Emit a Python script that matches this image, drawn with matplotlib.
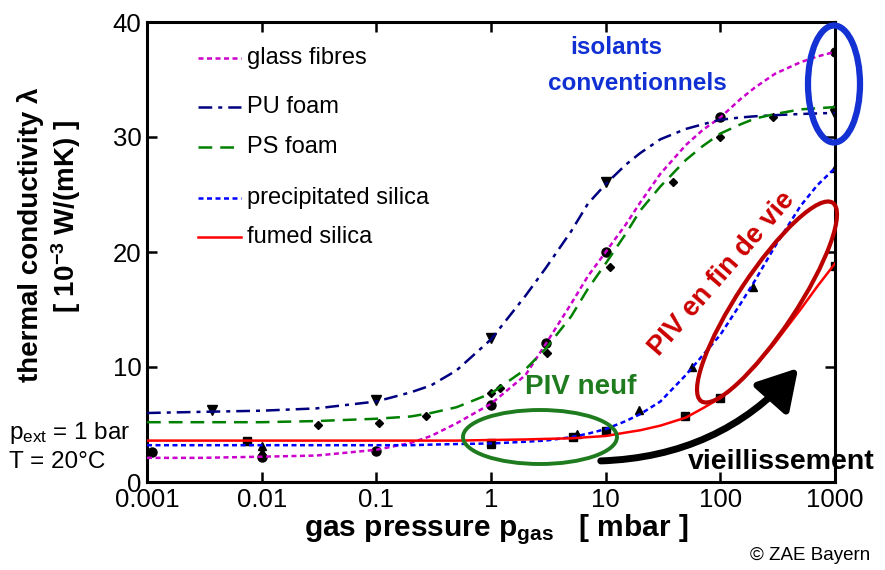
import matplotlib
matplotlib.use('Agg')
import matplotlib.pyplot as plt
from matplotlib.patches import Ellipse, FancyArrowPatch
from matplotlib.ticker import NullLocator, FixedLocator

plt.rcParams['font.family'] = ['Liberation Sans', 'DejaVu Sans']
plt.rcParams['mathtext.default'] = 'regular'

# curve samples (fit lines)
p_curve = [0.001, 0.003, 0.01, 0.03, 0.1, 0.2, 0.3, 0.5, 1, 2, 3, 5, 7, 10, 15, 20, 30, 50, 70,
           100, 150, 200, 300, 500, 700, 1000]
glass_curve = [2.1, 2.1, 2.2, 2.3, 2.8, 3.4, 4.0, 5.1, 6.8, 9.3, 12.0, 15.5, 17.9, 20.0, 22.4, 24.3,
               26.8, 29.3, 30.6, 31.7, 33.3, 34.3, 35.5, 36.5, 37.0, 37.4]
pu_curve = [6.0, 6.1, 6.2, 6.4, 7.0, 7.8, 8.4, 9.7, 12.4, 16.2, 18.6, 21.8, 24.2, 25.9, 27.6, 28.6,
            29.8, 30.7, 31.1, 31.5, 31.7, 31.8, 31.9, 32.0, 32.05, 32.1]
ps_curve = [5.2, 5.2, 5.2, 5.3, 5.5, 5.7, 6.0, 6.5, 7.7, 9.8, 11.6, 14.4, 16.8, 19.0, 21.6, 23.6,
            25.7, 28.0, 29.2, 30.3, 31.1, 31.6, 32.0, 32.4, 32.5, 32.6]
prec_curve = [3.2, 3.2, 3.2, 3.2, 3.2, 3.2, 3.25, 3.3, 3.35, 3.5, 3.6, 3.9, 4.2, 4.6, 5.3, 5.9,
              7.0, 9.3, 11.0, 12.8, 15.5, 17.5, 20.5, 24.0, 25.8, 27.3]
fumed_curve = [3.6, 3.6, 3.6, 3.6, 3.6, 3.6, 3.6, 3.6, 3.65, 3.7, 3.75, 3.8, 3.9, 4.0, 4.3, 4.5,
               4.9, 5.6, 6.4, 7.3, 8.8, 10.0, 12.1, 15.0, 17.0, 19.0]

# measured points
glass_p = [0.0011, 0.01, 0.1, 1, 3, 10, 100, 1000]
glass_l = [2.6, 2.2, 2.7, 6.7, 12.1, 20.0, 31.7, 37.4]
pu_p = [0.0037, 0.1, 1, 10, 1000]
pu_l = [6.3, 7.1, 12.5, 26.1, 32.0]
ps_p = [0.031, 0.105, 0.27, 1.0, 1.2, 3.1, 11, 39, 100, 287, 1000]
ps_l = [5.0, 5.1, 5.7, 7.7, 8.2, 11.2, 18.7, 26.1, 30.0, 31.7, 32.5]
prec_p = [0.01, 0.01, 1, 5.6, 19.5, 57, 192, 1000]
prec_l = [2.6, 3.1, 3.3, 4.2, 6.3, 10.0, 17.0, 27.3]
fumed_p = [0.0074, 1, 5.2, 10, 49, 100, 1000]
fumed_l = [3.6, 3.4, 3.9, 4.4, 5.7, 7.3, 18.8]

series = [
    ('glass fibres', p_curve, glass_curve, glass_p, glass_l, '#cc00cc', [2.0, 1.4], 'o', 6.5),
    ('PU foam', p_curve, pu_curve, pu_p, pu_l, '#000080', [5.5, 2.4, 1.6, 2.4], 'v', 6.5),
    ('PS foam', p_curve, ps_curve, ps_p, ps_l, '#008000', [5.5, 3.2], 'D', 4.5),
    ('precipitated silica', p_curve, prec_curve, prec_p, prec_l, '#0000ff', [2.0, 1.4], '^', 6),
    ('fumed silica', p_curve, fumed_curve, fumed_p, fumed_l, '#ff0000', None, 's', 5.5),
]

xticks = [0.001, 0.01, 0.1, 1, 10, 100, 1000]
xticklabels = ['0.001', '0.01', '0.1', '1', '10', '100', '1000']
yticks = [0, 10, 20, 30, 40]

fig = plt.figure(figsize=(8.85, 5.7), dpi=100)
ax = fig.add_axes([147/885, 88/570, 688/885, 460/570])

for name, pc, lc, pm, lm, col, dash, mk, ms in series:
    ax.plot(pm, lm, linestyle='none', marker=mk, color='k', markersize=ms, zorder=2)
    line, = ax.plot(pc, lc, color=col, lw=1.8, zorder=3)
    if dash:
        line.set_dashes(dash)

ax.set_xscale('log')
ax.set_xlim(0.001, 1000)
ax.set_ylim(0, 40)
ax.xaxis.set_major_locator(FixedLocator(xticks))
ax.xaxis.set_minor_locator(NullLocator())
ax.set_xticklabels(xticklabels)
ax.set_yticks(yticks)
ax.tick_params(direction='in', length=7, width=1.8, labelsize=18.5, top=True, right=True)
ax.tick_params(axis='x', pad=4)
ax.tick_params(axis='y', pad=4)
for s in ax.spines.values():
    s.set_linewidth(2.2)

# overlay in pixel units for annotations
ov = fig.add_axes([0, 0, 1, 1], facecolor='none')
ov.set_xlim(0, 885)
ov.set_ylim(0, 570)
ov.axis('off')

# legend, drawn by hand for the uneven spacing
leg_y = [58, 107, 147, 198, 237]
for (name, pc, lc, pm, lm, col, dash, mk, ms), yy in zip(series, leg_y):
    ln, = ov.plot([198, 241], [570 - yy, 570 - yy], color=col, lw=1.8)
    if dash:
        ln.set_dashes(dash)
    ov.text(247, 570 - yy, name, fontsize=17, va='center', ha='left')

ov.text(616, 570 - 48, 'isolants', color='#1030d4', fontsize=17.5,
        fontweight='bold', ha='center', va='center')
ov.text(637, 570 - 84, 'conventionnels', color='#1030d4', fontsize=17.5,
        fontweight='bold', ha='center', va='center')
ov.add_patch(Ellipse((834, 570 - 84), 52, 117, fill=False, ec='#1432d4', lw=4.5))

ov.text(722, 570 - 274, 'PIV en fin de vie', color='#cc0000', fontsize=19.5,
        fontweight='bold', ha='center', va='center', rotation=49)
ov.add_patch(Ellipse((767, 570 - 302), 238, 58, angle=56.5, fill=False, ec='#bb0000', lw=3))

ov.text(581, 570 - 387, 'PIV neuf', color='#1e7b1e', fontsize=20,
        fontweight='bold', ha='center', va='center')
ov.add_patch(Ellipse((540, 570 - 437), 154, 54, fill=False, ec='#1e7b1e', lw=2.8))

ov.add_patch(FancyArrowPatch((598, 570 - 461), (800, 570 - 366),
                             connectionstyle='arc3,rad=0.22',
                             arrowstyle='-|>,head_length=0.6,head_width=0.35',
                             mutation_scale=40, lw=5, color='k'))
ov.text(781, 570 - 462, 'vieillissement', fontsize=20.5, fontweight='bold',
        ha='center', va='center')

ov.text(9, 570 - 433, r'p$_{ext}$ = 1 bar', fontsize=17.5, va='center')
ov.text(9, 570 - 462, 'T = 20°C', fontsize=17.5, va='center')

ov.text(31, 570 - 235, 'thermal conductivity λ', fontsize=20, fontweight='bold',
        rotation=90, ha='center', va='center')
ov.text(66, 570 - 216, r'[ 10$^{-3}$ W/(mK) ]', fontsize=20, fontweight='bold',
        rotation=90, ha='center', va='center')

ov.text(496, 570 - 530, r'gas pressure p$_{gas}$   [ mbar ]', fontsize=21.5,
        fontweight='bold', ha='center', va='center')
ov.text(810, 570 - 555, '© ZAE Bayern', fontsize=13.5, ha='center', va='center')

fig.savefig('out.png', dpi=100)
